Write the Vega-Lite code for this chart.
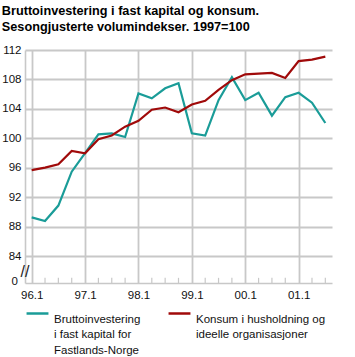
{
  "$schema": "https://vega.github.io/schema/vega-lite/v6.json",
  "autosize": "none",
  "width": 307,
  "height": 233,
  "padding": {"left": 25, "top": 50, "right": 23, "bottom": 74},
  "background": "white",
  "title": {
    "text": ["Bruttoinvestering i fast kapital og konsum.", "Sesongjusterte volumindekser. 1997=100"],
    "anchor": "start",
    "frame": "bounds",
    "font": "Liberation Sans",
    "fontSize": 12.7,
    "fontWeight": "bold",
    "color": "#000000",
    "lineHeight": 16,
    "offset": 10
  },
  "datasets": {
    "series": [
      {"q": 0, "kvartal": "96.1", "serie": "Bruttoinvestering i fast kapital for Fastlands-Norge", "v": 89.3},
      {"q": 1, "kvartal": "96.2", "serie": "Bruttoinvestering i fast kapital for Fastlands-Norge", "v": 88.8},
      {"q": 2, "kvartal": "96.3", "serie": "Bruttoinvestering i fast kapital for Fastlands-Norge", "v": 90.9},
      {"q": 3, "kvartal": "96.4", "serie": "Bruttoinvestering i fast kapital for Fastlands-Norge", "v": 95.5},
      {"q": 4, "kvartal": "97.1", "serie": "Bruttoinvestering i fast kapital for Fastlands-Norge", "v": 98.0},
      {"q": 5, "kvartal": "97.2", "serie": "Bruttoinvestering i fast kapital for Fastlands-Norge", "v": 100.55},
      {"q": 6, "kvartal": "97.3", "serie": "Bruttoinvestering i fast kapital for Fastlands-Norge", "v": 100.7},
      {"q": 7, "kvartal": "97.4", "serie": "Bruttoinvestering i fast kapital for Fastlands-Norge", "v": 100.2},
      {"q": 8, "kvartal": "98.1", "serie": "Bruttoinvestering i fast kapital for Fastlands-Norge", "v": 106.1},
      {"q": 9, "kvartal": "98.2", "serie": "Bruttoinvestering i fast kapital for Fastlands-Norge", "v": 105.45},
      {"q": 10, "kvartal": "98.3", "serie": "Bruttoinvestering i fast kapital for Fastlands-Norge", "v": 106.8},
      {"q": 11, "kvartal": "98.4", "serie": "Bruttoinvestering i fast kapital for Fastlands-Norge", "v": 107.5},
      {"q": 12, "kvartal": "99.1", "serie": "Bruttoinvestering i fast kapital for Fastlands-Norge", "v": 100.7},
      {"q": 13, "kvartal": "99.2", "serie": "Bruttoinvestering i fast kapital for Fastlands-Norge", "v": 100.4},
      {"q": 14, "kvartal": "99.3", "serie": "Bruttoinvestering i fast kapital for Fastlands-Norge", "v": 105.2},
      {"q": 15, "kvartal": "99.4", "serie": "Bruttoinvestering i fast kapital for Fastlands-Norge", "v": 108.3},
      {"q": 16, "kvartal": "00.1", "serie": "Bruttoinvestering i fast kapital for Fastlands-Norge", "v": 105.2},
      {"q": 17, "kvartal": "00.2", "serie": "Bruttoinvestering i fast kapital for Fastlands-Norge", "v": 106.2},
      {"q": 18, "kvartal": "00.3", "serie": "Bruttoinvestering i fast kapital for Fastlands-Norge", "v": 103.1},
      {"q": 19, "kvartal": "00.4", "serie": "Bruttoinvestering i fast kapital for Fastlands-Norge", "v": 105.6},
      {"q": 20, "kvartal": "01.1", "serie": "Bruttoinvestering i fast kapital for Fastlands-Norge", "v": 106.2},
      {"q": 21, "kvartal": "01.2", "serie": "Bruttoinvestering i fast kapital for Fastlands-Norge", "v": 104.85},
      {"q": 22, "kvartal": "01.3", "serie": "Bruttoinvestering i fast kapital for Fastlands-Norge", "v": 102.1},
      {"q": 0, "kvartal": "96.1", "serie": "Konsum i husholdning og ideelle organisasjoner", "v": 95.7},
      {"q": 1, "kvartal": "96.2", "serie": "Konsum i husholdning og ideelle organisasjoner", "v": 96.05},
      {"q": 2, "kvartal": "96.3", "serie": "Konsum i husholdning og ideelle organisasjoner", "v": 96.5},
      {"q": 3, "kvartal": "96.4", "serie": "Konsum i husholdning og ideelle organisasjoner", "v": 98.3},
      {"q": 4, "kvartal": "97.1", "serie": "Konsum i husholdning og ideelle organisasjoner", "v": 98.0},
      {"q": 5, "kvartal": "97.2", "serie": "Konsum i husholdning og ideelle organisasjoner", "v": 99.9},
      {"q": 6, "kvartal": "97.3", "serie": "Konsum i husholdning og ideelle organisasjoner", "v": 100.4},
      {"q": 7, "kvartal": "97.4", "serie": "Konsum i husholdning og ideelle organisasjoner", "v": 101.6},
      {"q": 8, "kvartal": "98.1", "serie": "Konsum i husholdning og ideelle organisasjoner", "v": 102.4},
      {"q": 9, "kvartal": "98.2", "serie": "Konsum i husholdning og ideelle organisasjoner", "v": 103.9},
      {"q": 10, "kvartal": "98.3", "serie": "Konsum i husholdning og ideelle organisasjoner", "v": 104.2},
      {"q": 11, "kvartal": "98.4", "serie": "Konsum i husholdning og ideelle organisasjoner", "v": 103.55},
      {"q": 12, "kvartal": "99.1", "serie": "Konsum i husholdning og ideelle organisasjoner", "v": 104.6},
      {"q": 13, "kvartal": "99.2", "serie": "Konsum i husholdning og ideelle organisasjoner", "v": 105.1},
      {"q": 14, "kvartal": "99.3", "serie": "Konsum i husholdning og ideelle organisasjoner", "v": 106.6},
      {"q": 15, "kvartal": "99.4", "serie": "Konsum i husholdning og ideelle organisasjoner", "v": 107.9},
      {"q": 16, "kvartal": "00.1", "serie": "Konsum i husholdning og ideelle organisasjoner", "v": 108.7},
      {"q": 17, "kvartal": "00.2", "serie": "Konsum i husholdning og ideelle organisasjoner", "v": 108.8},
      {"q": 18, "kvartal": "00.3", "serie": "Konsum i husholdning og ideelle organisasjoner", "v": 108.9},
      {"q": 19, "kvartal": "00.4", "serie": "Konsum i husholdning og ideelle organisasjoner", "v": 108.2},
      {"q": 20, "kvartal": "01.1", "serie": "Konsum i husholdning og ideelle organisasjoner", "v": 110.5},
      {"q": 21, "kvartal": "01.2", "serie": "Konsum i husholdning og ideelle organisasjoner", "v": 110.7},
      {"q": 22, "kvartal": "01.3", "serie": "Konsum i husholdning og ideelle organisasjoner", "v": 111.1}
    ],
    "kvartaler": [
      {"q": 1}, {"q": 2}, {"q": 3}, {"q": 5}, {"q": 6}, {"q": 7}, {"q": 9}, {"q": 10}, {"q": 11},
      {"q": 13}, {"q": 14}, {"q": 15}, {"q": 17}, {"q": 18}, {"q": 19}, {"q": 21}, {"q": 22}
    ],
    "merker": [
      {"q": -0.5, "v": 81.9, "tegn": "//", "type": "brudd"},
      {"q": -0.5, "v": 80.6, "tegn": "0", "type": "nullpunkt"}
    ]
  },
  "config": {
    "view": {"stroke": null},
    "font": "Liberation Sans",
    "style": {"guide-label": {"lineHeight": 15.5}}
  },
  "layer": [
    {
      "data": {"name": "kvartaler"},
      "mark": {"type": "rule", "color": "#c8c8c8", "strokeWidth": 1.2},
      "encoding": {
        "x": {"field": "q", "type": "quantitative"},
        "y": {"datum": 80.4, "type": "quantitative"},
        "y2": {"datum": 81.1}
      }
    },
    {
      "data": {"name": "series"},
      "mark": {"type": "line", "strokeWidth": 2.2, "clip": false},
      "encoding": {
        "x": {
          "field": "q",
          "type": "quantitative",
          "scale": {"domain": [-0.5, 22.5], "nice": false, "zero": false},
          "axis": {
            "title": null,
            "values": [0, 4, 8, 12, 16, 20],
            "labelExpr": "['96.1','97.1','98.1','99.1','00.1','01.1'][datum.value / 4]",
            "labelFont": "Liberation Sans",
            "labelFontSize": 11.5,
            "labelColor": "#111111",
            "labelPadding": 6,
            "labelOverlap": false,
            "labelFlush": false,
            "domainColor": "#c8c8c8",
            "domainWidth": 1.6,
            "ticks": false,
            "grid": true,
            "gridColor": "#c8c8c8",
            "gridWidth": 1.8
          }
        },
        "y": {
          "field": "v",
          "type": "quantitative",
          "scale": {"domain": [80.4, 112], "nice": false, "zero": false},
          "axis": {
            "title": null,
            "values": [84, 88, 92, 96, 100, 104, 108, 112],
            "tickCount": 30,
            "labelFont": "Liberation Sans",
            "labelFontSize": 11.5,
            "labelColor": "#111111",
            "labelPadding": 4,
            "labelOverlap": false,
            "labelFlush": false,
            "ticks": false,
            "domainColor": "#c8c8c8",
            "domainWidth": 1.6,
            "grid": true,
            "gridColor": "#c8c8c8",
            "gridWidth": 1.8
          }
        },
        "color": {
          "field": "serie",
          "type": "nominal",
          "scale": {
            "domain": ["Bruttoinvestering i fast kapital for Fastlands-Norge", "Konsum i husholdning og ideelle organisasjoner"],
            "range": ["#1a9c98", "#a00a0a"]
          },
          "legend": {
            "title": null,
            "orient": "bottom",
            "direction": "horizontal",
            "columns": 2,
            "columnPadding": 22,
            "offset": 0,
            "symbolType": "stroke",
            "symbolSize": 480,
            "symbolStrokeWidth": 2.5,
            "labelFont": "Liberation Sans",
            "labelFontSize": 11.5,
            "labelColor": "#111111",
            "labelBaseline": "top",
            "labelOffset": 4,
            "labelLimit": 300,
            "labelExpr": "datum.label == 'Konsum i husholdning og ideelle organisasjoner' ? ['Konsum i husholdning og', 'ideelle organisasjoner', ''] : ['Bruttoinvestering', 'i fast kapital for', 'Fastlands-Norge']"
          }
        }
      }
    },
    {
      "data": {"name": "merker"},
      "transform": [{"filter": "datum.type == 'brudd'"}],
      "mark": {"type": "text", "fontSize": 16, "fontWeight": "normal", "fill": "#222222", "clip": false},
      "encoding": {
        "x": {"field": "q", "type": "quantitative"},
        "y": {"field": "v", "type": "quantitative"},
        "text": {"field": "tegn"}
      }
    },
    {
      "data": {"name": "merker"},
      "transform": [{"filter": "datum.type == 'nullpunkt'"}],
      "mark": {"type": "text", "fontSize": 11.5, "fill": "#111111", "align": "right", "baseline": "middle", "dx": -7, "clip": false},
      "encoding": {
        "x": {"field": "q", "type": "quantitative"},
        "y": {"field": "v", "type": "quantitative"},
        "text": {"field": "tegn"}
      }
    }
  ]
}
